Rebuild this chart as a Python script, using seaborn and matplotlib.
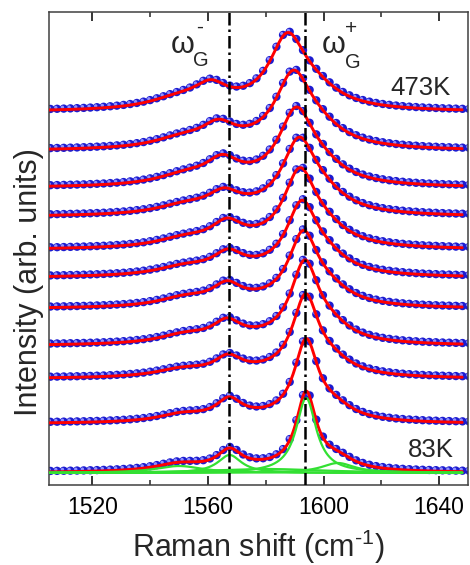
import numpy as np
import pandas as pd
import matplotlib
matplotlib.use("Agg")
import matplotlib.pyplot as plt
import matplotlib.transforms as mtransforms
import seaborn as sns

# ---------------- data ----------------
temps = [83, 122, 161, 200, 239, 278, 317, 356, 395, 434, 473]          # K
offsets = [12, 61, 106, 139, 176, 207, 235, 268, 297, 334, 373]           # stacking offset (arb.)

# G+ band (center cm-1, half width, height)
gp_c = [1594.0, 1594.0, 1593.8, 1593.5, 1593.0, 1592.5, 1591.8, 1591.5, 1590.5, 1589.5, 1587.5]
gp_w = [4.2, 5.0, 5.5, 5.9, 6.2, 6.5, 6.8, 7.1, 7.3, 7.5, 7.6]
gp_h = [75, 77, 76, 76, 68, 66, 70, 67, 68, 67, 67]
# G- band
gm_c = [1567.5, 1567.3, 1567.0, 1566.6, 1566.6, 1567.0, 1566.6, 1565.5, 1565.0, 1563.6, 1561.0]
gm_w = [5.0, 5.5, 5.8, 6.0, 6.2, 6.4, 6.6, 6.8, 7.0, 7.0, 7.0]
gm_h = [18, 19, 16, 18, 18, 18, 20, 17, 21, 19, 19]
# high-frequency shoulder
sh_c = [1605.0, 1604.0, 1603.0, 1602.5, 1602.0, 1601.0, 1600.5, 1600.0, 1599.0, 1598.0, 1597.0]
sh_w = [7.0, 8.0, 8.5, 8.5, 9.0, 9.0, 9.5, 9.5, 10.0, 10.5, 10.5]
sh_h = [10, 11, 11, 12, 12, 13, 13, 14, 14, 15, 15]
# low-frequency shoulder
lo_c = [1550, 1551, 1551, 1552, 1552, 1552, 1552, 1552, 1552, 1551, 1550]
lo_w = [10, 10, 11, 11, 11, 12, 12, 12, 12, 12, 13]
lo_h = [7, 7, 7, 8, 8, 8, 8, 8, 9, 9, 10]
# broad background band
bb_c = [1580] * 11
bb_w = [25] * 11
bb_h = [4, 4, 4, 4, 4, 4, 4, 4, 3, 3, 2]

vlines = [1567.3, 1593.5]
xticks = [1520, 1560, 1600, 1640]

# ---------------- helpers ----------------
def lor(x, c, w, h):
    return h / (1.0 + ((x - c) / w) ** 2)

def components(x, i):
    return [lor(x, lo_c[i], lo_w[i], lo_h[i]),
            lor(x, gm_c[i], gm_w[i], gm_h[i]),
            lor(x, bb_c[i], bb_w[i], bb_h[i]),
            lor(x, gp_c[i], gp_w[i], gp_h[i]),
            lor(x, sh_c[i], sh_w[i], sh_h[i])]

x_fit = np.linspace(1505, 1648, 800)
x_dat = np.arange(1505.5, 1650.5, 2.3)

fit_rows, dot_rows, comp_rows = [], [], []
for i, T in enumerate(temps):
    yf = offsets[i] + np.sum(components(x_fit, i), axis=0)
    yd = offsets[i] + np.sum(components(x_dat, i), axis=0)
    fit_rows.append(pd.DataFrame({"x": x_fit, "y": yf, "T": T}))
    dot_rows.append(pd.DataFrame({"x": x_dat, "y": yd, "T": T}))
df_fit = pd.concat(fit_rows)
df_dot = pd.concat(dot_rows)

for k, comp in enumerate(components(x_fit, 0)):
    comp_rows.append(pd.DataFrame({"x": x_fit, "y": offsets[0] + comp, "c": k}))
df_comp = pd.concat(comp_rows)

# ---------------- plot ----------------
sns.set_style("ticks")
plt.rcParams["font.family"] = ["Liberation Sans", "DejaVu Sans"]
plt.rcParams["mathtext.fontset"] = "custom"
plt.rcParams["mathtext.rm"] = "Liberation Sans"
plt.rcParams["mathtext.it"] = "Liberation Sans"
plt.rcParams["mathtext.bf"] = "Liberation Sans:bold"

fig = plt.figure(figsize=(4.70, 5.65), dpi=100)
ax = fig.add_axes([49 / 470, 80 / 565, 419 / 470, 473 / 565])

# shaded "ball" markers: blue body + light highlight, sitting slightly above the fit
lift = mtransforms.ScaledTranslation(0, 1.0 / 100, fig.dpi_scale_trans)
sns.scatterplot(data=df_dot, x="x", y="y", ax=ax, color="#1c1cd0", s=36,
                edgecolor="none", linewidth=0, legend=False, zorder=2)
ax.collections[-1].set_offset_transform(ax.transData + lift)
sns.scatterplot(data=df_dot, x="x", y="y", ax=ax, color="#9090ff", s=6,
                edgecolor="none", linewidth=0, legend=False, zorder=2.1)
ax.collections[-1].set_offset_transform(
    ax.transData + mtransforms.ScaledTranslation(-1.3 / 100, 2.3 / 100, fig.dpi_scale_trans))

sns.lineplot(data=df_fit, x="x", y="y", units="T", estimator=None, ax=ax,
             color="#ff0000", linewidth=2.1, legend=False, zorder=3)
sns.lineplot(data=df_comp, x="x", y="y", units="c", estimator=None, ax=ax,
             color="#33e033", linewidth=1.6, legend=False, zorder=4)

for v in vlines:
    ax.axvline(v, color="black", linewidth=1.8, dashes=(5, 1.6, 1, 1.6), zorder=5)

ax.set_xlim(1505, 1650)
ax.set_ylim(0, 473)
ax.set_xticks(xticks)
ax.set_xticks([1540, 1580, 1620], minor=True)
ax.set_yticks([])
ax.tick_params(axis="x", which="major", direction="in", length=6.2, width=1.1,
               top=True, labelsize=16.5, pad=8, colors="black")
ax.tick_params(axis="x", which="minor", direction="in", length=3.6, width=1.1, top=True)
for sp in ax.spines.values():
    sp.set_linewidth(1.1)
    sp.set_color("#404040")

ax.set_xlabel("Raman shift (cm$^{\u20101}$)", fontsize=22, labelpad=6)
ax.set_ylabel("Intensity (arb. units)", fontsize=22)
ax.yaxis.set_label_coords(-0.012, 0.43)

ax.text(1644, 397, "473K", fontsize=18.5, ha="right", va="center")
ax.text(1645, 35, "83K", fontsize=18.5, ha="right", va="center")

# omega_G labels, composed of base glyph, subscript and superscript
ax.text(1547.1, 432, "\u03c9", fontsize=22, ha="left", va="baseline")
ax.text(1555.0, 419, "G", fontsize=14.5, ha="left", va="baseline")
ax.text(1557.2, 458, "-", fontsize=15, ha="center", va="center")
ax.text(1599.4, 432, "\u03c9", fontsize=22, ha="left", va="baseline")
ax.text(1607.3, 417, "G", fontsize=14.5, ha="left", va="baseline")
ax.text(1609.6, 456, "+", fontsize=15, ha="center", va="center")

fig.savefig("out.png", dpi=100)
